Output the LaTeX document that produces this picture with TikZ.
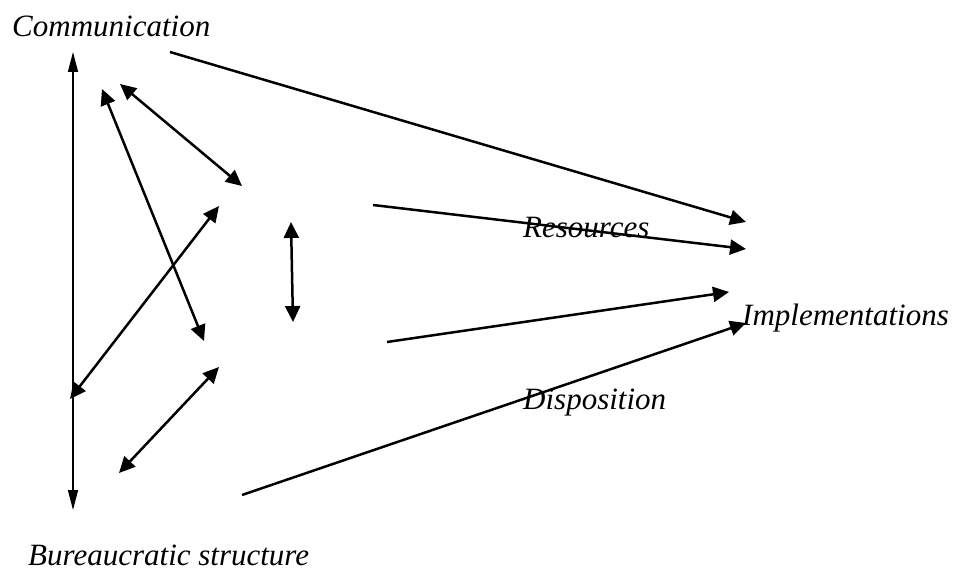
\documentclass[tikz,border=0pt]{standalone}
\usepackage{fontspec}
\setmainfont{Liberation Serif}
\usetikzlibrary{arrows.meta}
\begin{document}
\begin{tikzpicture}[x=1pt,y=-1pt,
  lbl/.style={inner sep=0pt,anchor=base west,font=\fontsize{31}{31}\selectfont\itshape},
  conn/.style={line width=2.5pt,-{Triangle[length=16pt,width=15pt]}},
  dconn/.style={line width=2.5pt,{Triangle[length=16pt,width=15pt]}-{Triangle[length=16pt,width=15pt]}},
  thinconn/.style={line width=1.5pt,{Triangle[length=20pt,width=10pt]}-{Triangle[length=20pt,width=10pt]}}]
\useasboundingbox (0,0) rectangle (956,588);
% labels
\node[lbl] (comm) at (12,37) {Communication};
\node[lbl] (res) at (523,237) {Resources};
\node[lbl] (impl) at (742,325) {Implementations};
\node[lbl] (disp) at (523,409) {Disposition};
\node[lbl] (bur) at (28,565) {Bureaucratic structure};
% end points
\coordinate (v1) at (73,510);
\coordinate (v2) at (73,52);
\coordinate (a1) at (120,84);
\coordinate (a2) at (242,186);
\coordinate (b1) at (102,89);
\coordinate (b2) at (204,341);
\coordinate (c1) at (219,206);
\coordinate (c2) at (70,399);
\coordinate (d1) at (219,367);
\coordinate (d2) at (119,473);
\coordinate (e1) at (291,222);
\coordinate (e2) at (293,322);
\coordinate (f1) at (170,52);
\coordinate (f2) at (746,222);
\coordinate (g1) at (373,205);
\coordinate (g2) at (746,249);
\coordinate (h1) at (387,342);
\coordinate (h2) at (729,292);
\coordinate (k1) at (242,495);
\coordinate (k2) at (746,323);
% connectors
\draw[thinconn] (v1) -- (v2);
\draw[dconn] (a1) -- (a2);
\draw[dconn] (b1) -- (b2);
\draw[dconn] (c1) -- (c2);
\draw[dconn] (d1) -- (d2);
\draw[dconn] (e1) -- (e2);
\draw[conn] (f1) -- (f2);
\draw[conn] (g1) -- (g2);
\draw[conn] (h1) -- (h2);
\draw[conn] (k1) -- (k2);
\end{tikzpicture}
\end{document}
